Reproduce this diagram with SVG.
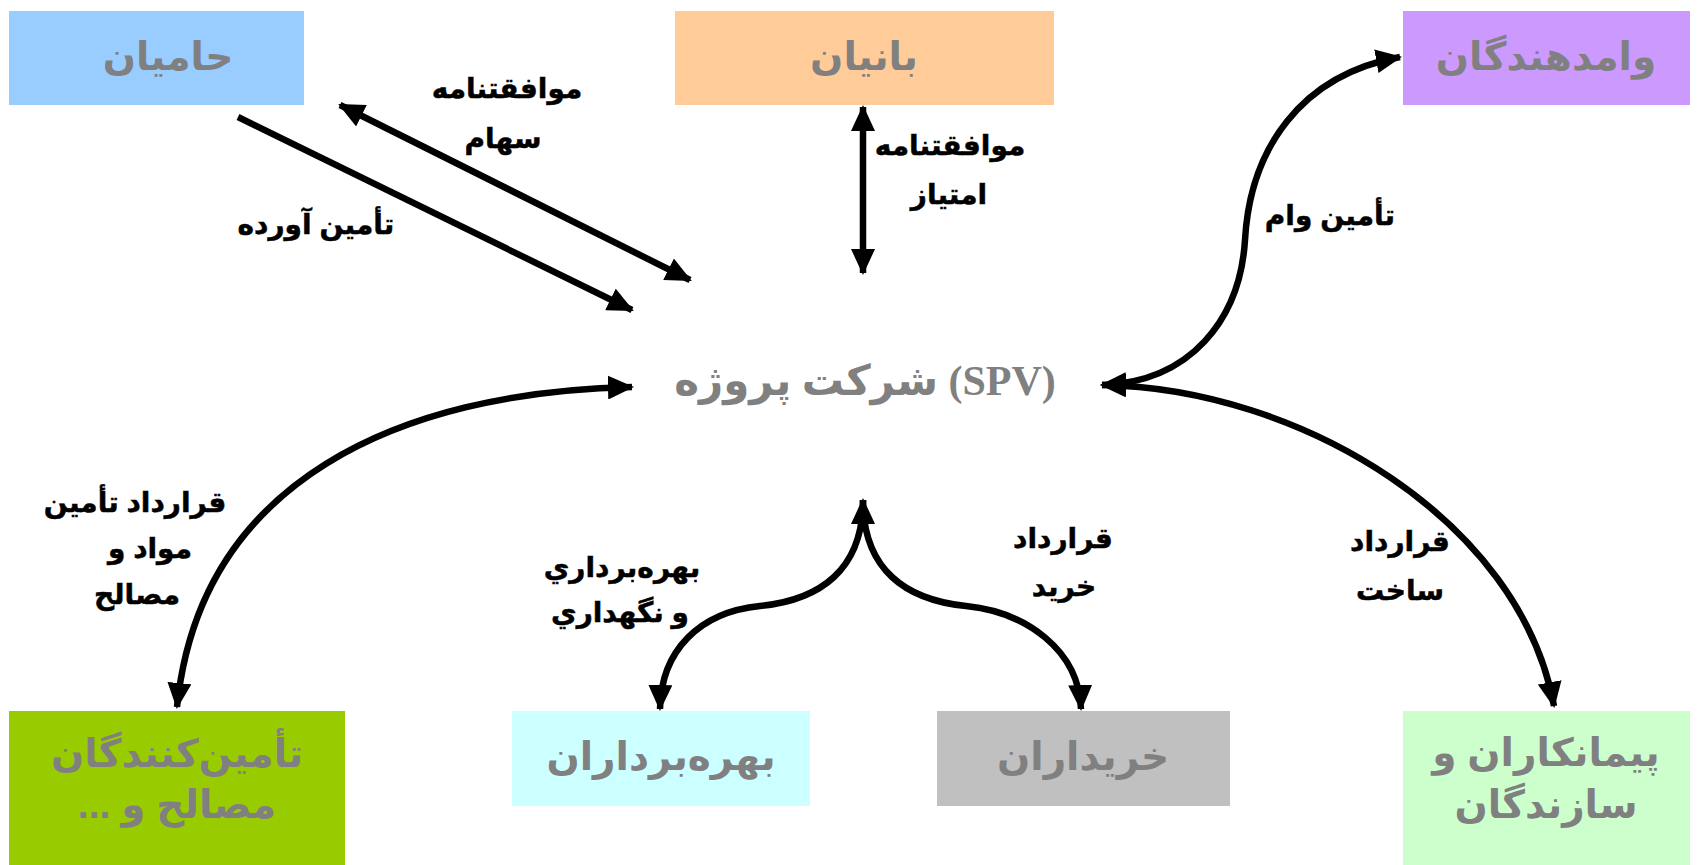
<svg xmlns="http://www.w3.org/2000/svg" width="1698" height="865" viewBox="0 0 1698 865">
<defs>
<marker id="ah" viewBox="0 0 26 24" refX="24" refY="12" markerWidth="26" markerHeight="24" markerUnits="userSpaceOnUse" orient="auto-start-reverse">
<path d="M0,0 L26,12 L0,24 z" fill="#000"/>
</marker>
<style>
.box-t{font-family:'Liberation Sans','DejaVu Sans',sans-serif;font-weight:bold;font-size:39px;fill:#808080;text-anchor:middle;dominant-baseline:central;direction:rtl}
.lbl{font-family:'Liberation Sans','DejaVu Sans',sans-serif;font-weight:bold;font-size:28px;fill:#000;stroke:#000;stroke-width:0.5;text-anchor:middle;dominant-baseline:central;direction:rtl}
.spv{font-family:'Liberation Serif','DejaVu Sans',serif;font-weight:bold;font-size:42px;fill:#808080;text-anchor:middle;dominant-baseline:central}
.con{fill:none;stroke:#000;stroke-width:6.5}
</style>
</defs>
<rect width="1698" height="865" fill="#fff"/>

<g id="hamiyan"><rect x="9" y="11" width="295" height="94" fill="#99CCFF"/><text class="box-t" x="168" y="56">حامیان</text></g>
<g id="baniyan"><rect x="675" y="11" width="379" height="94" fill="#FFCC99"/><text class="box-t" x="864" y="56">بانیان</text></g>
<g id="vamdahandegan"><rect x="1403" y="11" width="287" height="94" fill="#CC99FF"/><text class="box-t" x="1546" y="56">وامدهندگان</text></g>
<g id="spv"><text class="spv" x="865" y="381">شرکت پروژه (SPV)</text></g>
<g id="taminkonandegan"><rect x="9" y="711" width="336" height="154" fill="#99CC00"/><text class="box-t" x="177" y="753">تأمین‌کنندگان</text><text class="box-t" x="177" y="804">مصالح و ...</text></g>
<g id="bahrebardaran"><rect x="512" y="711" width="298" height="95" fill="#CCFFFF"/><text class="box-t" x="661" y="756">بهره‌برداران</text></g>
<g id="kharidaran"><rect x="937" y="711" width="293" height="95" fill="#C0C0C0"/><text class="box-t" x="1083" y="756">خریداران</text></g>
<g id="peymankaran"><rect x="1403" y="711" width="287" height="154" fill="#CCFFCC"/><text class="box-t" x="1546" y="752">پیمانکاران و</text><text class="box-t" x="1546" y="804">سازندگان</text></g>

<g id="connectors">
<path class="con" d="M238,117 L632,310" marker-end="url(#ah)"/>
<path class="con" d="M340,105 L690,280" marker-start="url(#ah)" marker-end="url(#ah)"/>
<path class="con" d="M863,107 L863,273" marker-start="url(#ah)" marker-end="url(#ah)"/>
<path class="con" d="M1102,385 C1190,382 1240,320 1245,240 C1250,150 1300,75 1400,57" marker-start="url(#ah)" marker-end="url(#ah)"/>
<path class="con" d="M1102,385 C1300,388 1520,520 1554,706" marker-start="url(#ah)" marker-end="url(#ah)"/>
<path class="con" d="M632,387 C400,392 200,480 177,707" marker-start="url(#ah)" marker-end="url(#ah)"/>
<path class="con" d="M863,500 C863,570 820,600 760,606 C700,612 661,650 660,709" marker-start="url(#ah)" marker-end="url(#ah)"/>
<path class="con" d="M863,500 C863,570 906,600 966,606 C1026,612 1079,650 1081,709" marker-end="url(#ah)"/>
</g>

<g id="labels">
<text class="lbl" x="507" y="88">موافقتنامه</text>
<text class="lbl" x="503" y="138">سهام</text>
<text class="lbl" x="316" y="224">تأمین آورده</text>
<text class="lbl" x="950" y="145">موافقتنامه</text>
<text class="lbl" x="949" y="194">امتیاز</text>
<text class="lbl" x="1330" y="215">تأمین وام</text>
<text class="lbl" x="135" y="502">قرارداد تأمین</text>
<text class="lbl" x="150" y="548">مواد و</text>
<text class="lbl" x="137" y="594">مصالح</text>
<text class="lbl" x="622" y="567">بهره‌برداري</text>
<text class="lbl" x="620" y="612">و نگهداري</text>
<text class="lbl" x="1063" y="538">قرارداد</text>
<text class="lbl" x="1064" y="586">خرید</text>
<text class="lbl" x="1400" y="541">قرارداد</text>
<text class="lbl" x="1400" y="590">ساخت</text>
</g>
</svg>
